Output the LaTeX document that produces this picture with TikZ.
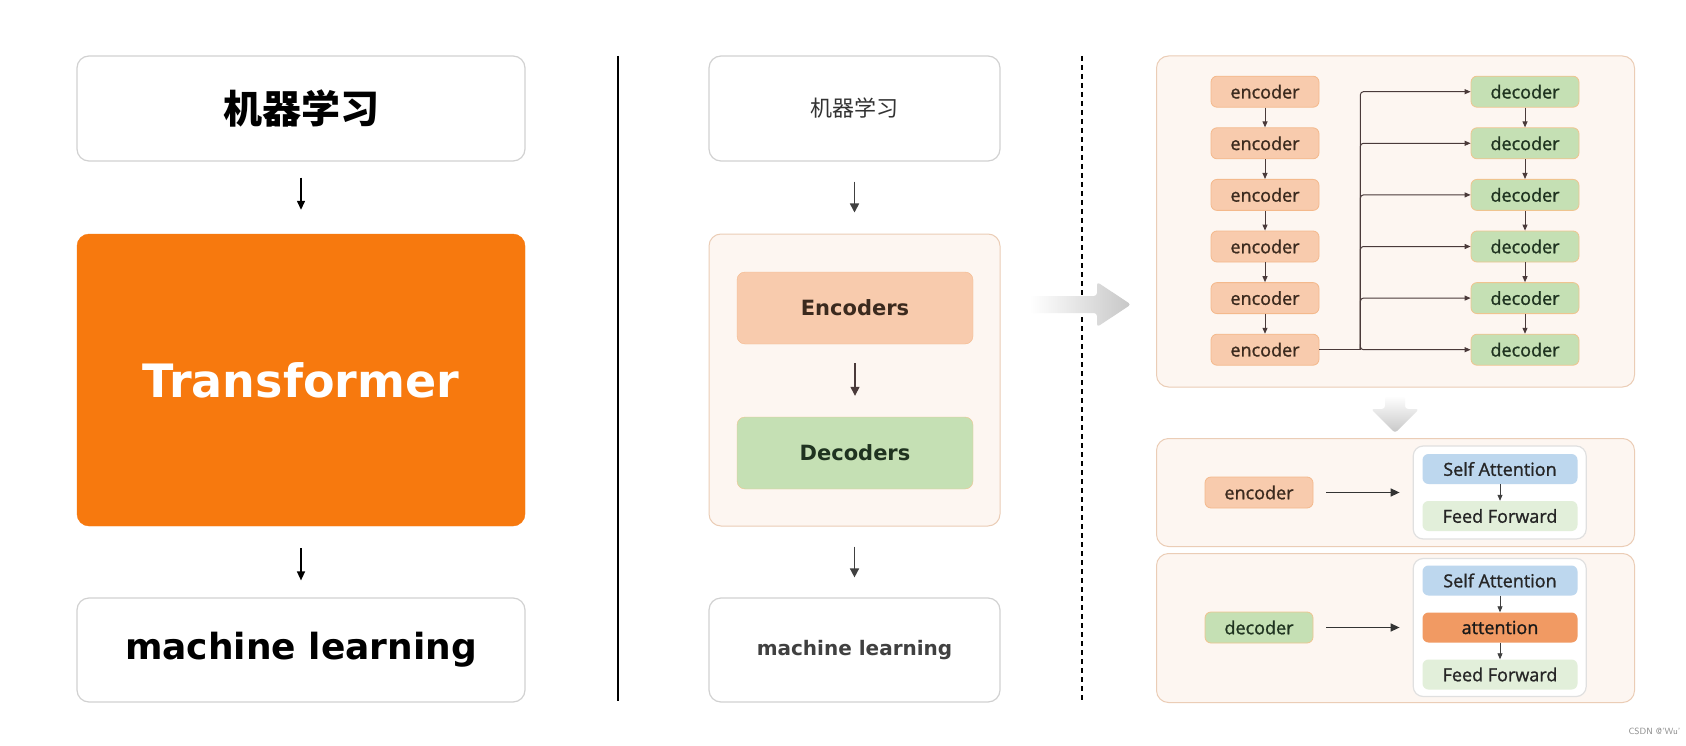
\documentclass[tikz,border=0pt]{standalone}
\usepackage{fontspec}
\setmainfont{Open Sans}
\newfontfamily\cjk{Noto Sans CJK SC}
\newfontfamily\verd{DejaVu Sans}
\newfontfamily\semi{Open Sans}[FakeBold=1.2]
\usepackage{tikz}
\usetikzlibrary{arrows.meta,positioning}
\definecolor{tforange}{HTML}{F7790E}
\definecolor{encfill}{HTML}{F8CBAD}
\definecolor{encline}{HTML}{F4B98C}
\definecolor{decfill}{HTML}{C5E0B4}
\definecolor{decline}{HTML}{EFC48F}
\definecolor{panel}{HTML}{FDF6F1}
\definecolor{panelline}{HTML}{EBCDB6}
\definecolor{safill}{HTML}{BDD7EE}
\definecolor{fffill}{HTML}{E2EFDA}
\definecolor{attfill}{HTML}{F19A63}
\definecolor{linkcol}{HTML}{4A3A3A}
\definecolor{enctext}{HTML}{3B2A1E}
\definecolor{dectext}{HTML}{1F3320}

\begin{document}
\begin{tikzpicture}[x=1pt, y=-1pt,
  wbox/.style={draw=black!18, fill=white, rounded corners=12pt, line width=1.2pt, minimum height=105pt},
  pbox/.style={draw=panelline, fill=panel, rounded corners=12pt, line width=1pt},
  encbox/.style={draw=encline, fill=encfill, rounded corners=6pt, line width=0.8pt, text=enctext,
    minimum width=108pt, minimum height=31pt, font=\semi\fontsize{18}{20}\selectfont},
  decbox/.style={encbox, draw=decline, fill=decfill, text=dectext},
  subbox/.style={rounded corners=6pt, minimum width=155pt, minimum height=30pt, text=black!85,
    font=\semi\fontsize{18}{20}\selectfont},
  bigarr/.style={-{Triangle[length=9pt,width=8pt]}, line width=1.4pt, black},
  midarr/.style={-{Triangle[length=9pt,width=9pt]}, line width=1.6pt, black!75},
  link/.style={-{Triangle[length=6pt,width=5pt]}, line width=1pt, linkcol},
]
\useasboundingbox (0,0) rectangle (1686,746);
\fill[white] (0,0) rectangle (1686,746);

% left column
\node[wbox, minimum width=448pt] (mlcn) at (301,108.5) {\cjk\bfseries\fontsize{39}{41}\selectfont 机器学习};
\node[draw=tforange, fill=tforange, rounded corners=12pt, minimum width=448pt, minimum height=292pt,
  text=white, font=\verd\bfseries\fontsize{46}{50}\selectfont] (tf) at (301,380) {Transformer};
\node[wbox, minimum width=448pt, minimum height=104pt, font=\verd\bfseries\fontsize{36}{40}\selectfont] (mlen) at (301,650) {machine learning};
\draw[bigarr, shorten <=16pt, shorten >=24pt] (mlcn) -- (tf);
\draw[bigarr, shorten <=22pt, shorten >=17pt] (tf) -- (mlen);

\draw[line width=2pt] (618,56) -- (618,701);

% middle column
\node[wbox, minimum width=291pt, text=black!80] (mlcn2) at (854.5,108.5) {\cjk\fontsize{22}{24}\selectfont 机器学习};
\node[pbox, minimum width=291pt, minimum height=292pt] (stack) at (854.5,380) {};
\node[draw=encline, fill=encfill, rounded corners=8pt, minimum width=236pt, minimum height=72pt,
  text=enctext, font=\verd\bfseries\fontsize{21}{24}\selectfont] (encs) at (855,308) {Encoders};
\node[draw=decline, fill=decfill, rounded corners=8pt, minimum width=236pt, minimum height=72pt,
  text=dectext, font=\verd\bfseries\fontsize{21}{24}\selectfont] (decs) at (855,453) {Decoders};
\node[wbox, minimum width=291pt, minimum height=104pt, text=black!75,
  font=\verd\bfseries\fontsize{20}{23}\selectfont] (mlen2) at (854.5,650) {machine learning};
\draw[midarr, shorten <=20pt, shorten >=21pt] (mlcn2) -- (stack);
\draw[midarr, line width=1.3pt, linkcol, shorten <=19pt, shorten >=21pt] (encs) -- (decs);
\draw[midarr, shorten <=20pt, shorten >=20pt] (stack) -- (mlen2);

\draw[line width=1.5pt, dash pattern=on 5pt off 4pt] (1082,56) -- (1082,701);

% grey arrows
\shade[left color=white, right color=black!22, rounded corners=3pt]
  (1030,296) -- (1097,296) -- (1097,282) -- (1131,304.5) -- (1097,327) -- (1097,313) -- (1030,313) -- cycle;
\shade[top color=white, bottom color=black!22, rounded corners=3pt]
  (1385,396) -- (1405,396) -- (1405,409) -- (1419,409) -- (1395,433) -- (1371,409) -- (1385,409) -- cycle;

% encoder / decoder ladder
\node[pbox, minimum width=478pt, minimum height=331pt] (ladder) at (1395.5,221.5) {};
\foreach \i in {1,...,6} {
  \node[encbox] (e\i) at (1265,{91.7+51.6*(\i-1)}) {encoder};
  \node[decbox] (d\i) at (1525,{91.7+51.6*(\i-1)}) {decoder};
}
\foreach \i [count=\j from 2] in {1,...,5} {
  \draw[link] (e\i) -- (e\j);
  \draw[link] (d\i) -- (d\j);
}
\path (e6.east) ++(41,0) coordinate (trunk);
\draw[line width=1pt, linkcol] (e6) -- (trunk);
\foreach \i in {1,...,6}
  \draw[link, rounded corners=3pt] (trunk) |- (d\i.west);

% encoder detail
\node[pbox, minimum width=478pt, minimum height=108pt] (encpanel) at (1395.5,492.5) {};
\node[encbox] (enc) at (1259,492.5) {encoder};
\node[draw=black!12, fill=white, rounded corners=10pt, line width=1.2pt, minimum width=173pt, minimum height=93pt] (encin) at (1499.7,492.5) {};
\node[subbox, fill=safill] (esa) at (1500,469) {Self Attention};
\node[subbox, fill=fffill] (eff) at (1500,516) {Feed Forward};
\draw[bigarr, black!80, shorten <=13pt, shorten >=13pt] (enc) -- (encin);
\draw[link, black!75, line width=0.8pt] (esa) -- (eff);

% decoder detail
\node[pbox, minimum width=478pt, minimum height=149pt] (decpanel) at (1395.5,628) {};
\node[decbox] (dec) at (1259,627.5) {decoder};
\node[draw=black!12, fill=white, rounded corners=10pt, line width=1.2pt, minimum width=173pt, minimum height=138pt] (decin) at (1499.7,627.5) {};
\node[subbox, fill=safill] (dsa) at (1500,580.5) {Self Attention};
\node[subbox, fill=attfill, text=black!90] (datt) at (1500,627.5) {attention};
\node[subbox, fill=fffill] (dff) at (1500,674.5) {Feed Forward};
\draw[bigarr, black!80, shorten <=13pt, shorten >=13pt] (dec) -- (decin);
\draw[link, black!75, line width=0.8pt] (dsa) -- (datt);
\draw[link, black!75, line width=0.8pt] (datt) -- (dff);

\node[text=black!45, font=\sffamily\fontsize{9}{10}\selectfont, anchor=east] (mark) at (1684,731) {CSDN @'Wu'};
\end{tikzpicture}
\end{document}
